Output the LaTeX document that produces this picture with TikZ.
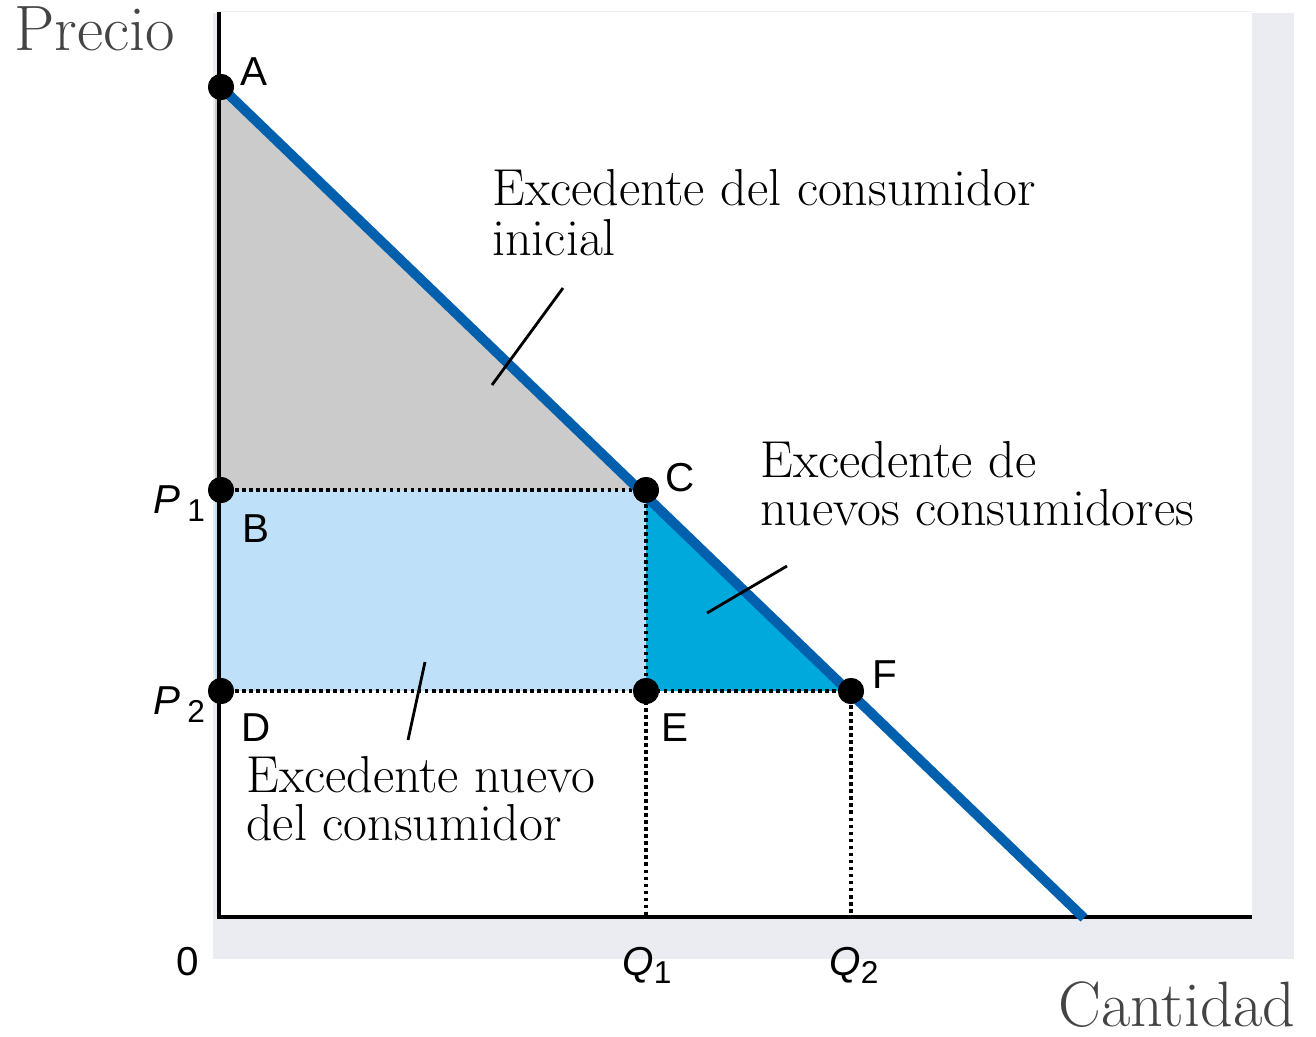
\documentclass[tikz,border=0pt]{standalone}
\usepackage{fontspec}
\newfontfamily\labfont{Liberation Sans}
\definecolor{shadowc}{HTML}{EBECF1}
\definecolor{greyfill}{HTML}{CBCBCB}
\definecolor{lightblue}{HTML}{BEE0F8}
\definecolor{cyanfill}{HTML}{00A9DC}
\definecolor{demandblue}{HTML}{0060AE}
\definecolor{axisgrey}{HTML}{444444}
\begin{document}
\begin{tikzpicture}[x=0.02cm,y=-0.02cm,
  dot/.style={circle,fill=black,inner sep=0pt,minimum size=26*0.02cm},
  axisline/.style={line width=2pt,black},
  demand/.style={line width=5.6pt,demandblue},
  dotline/.style={line width=2.1pt,black,dash pattern=on 2.1pt off 1.9pt},
  leader/.style={line width=1.6pt,black},
  serif/.style={font=\fontsize{29.6}{33}\selectfont,anchor=base west,inner sep=0pt},
  axlabel/.style={font=\fontsize{36.5}{40}\selectfont,text=axisgrey,anchor=base west,inner sep=0pt},
  sans/.style={font=\labfont\fontsize{23}{26}\selectfont,anchor=base west,inner sep=0pt},
]
\useasboundingbox (0,0) rectangle (1316,1036);
% shadow and plot area
\fill[shadowc] (213,13) rectangle (1294,959);
\fill[white] (219,11) rectangle (1252,917);
\draw[line width=0.4pt,black!6] (219,11) -- (1252,11);
% regions
\fill[greyfill] (215,87) -- (646,490) -- (215,490) -- cycle;
\fill[lightblue] (215,490) rectangle (646,691);
\fill[cyanfill] (646,490) -- (646,691) -- (851,691) -- cycle;
% points
\node[dot] (A) at (221,87) {};
\node[dot] (B) at (221,490) {};
\node[dot] (C) at (646,490) {};
\node[dot] (D) at (221,691) {};
\node[dot] (E) at (646,691) {};
\node[dot] (F) at (851,691) {};
\coordinate (ytop) at (219,12);
\coordinate (orig) at (219,917);
\coordinate (xend) at (1252,917);
\coordinate (dend) at (1084,918);
\coordinate (q1) at (646,917);
\coordinate (q2) at (851,917);
% dotted guides
\draw[dotline] (B.center) -- (C.center);
\draw[dotline] (D.center) -- (F.center);
\draw[dotline] (C.center) -- (q1);
\draw[dotline] (F.center) -- (q2);
% axes
\draw[axisline] (ytop) -- (orig) -- (xend);
% demand curve
\draw[demand] (A.center) -- (dend);
% redraw dots on top
\foreach \p in {A,B,C,D,E,F} \fill[black] (\p.center) circle (13);
% leaders
\coordinate (l1a) at (563,288);
\coordinate (l1b) at (492,385);
\coordinate (l2a) at (787,566);
\coordinate (l2b) at (707,613);
\coordinate (l3a) at (425,662);
\coordinate (l3b) at (408,740);
\draw[leader] (l1a) -- (l1b);
\draw[leader] (l2a) -- (l2b);
\draw[leader] (l3a) -- (l3b);
% texts
\node[serif] (t1) at (492,205) {Excedente del consumidor};
\node[serif] (t1b) at (492,255) {inicial};
\node[serif] (t2) at (760,477) {Excedente de};
\node[serif] (t2b) at (760,525) {nuevos consumidores};
\node[serif] (t3) at (246,792) {Excedente nuevo};
\node[serif] (t3b) at (246,840) {del consumidor};
\node[axlabel] (ylab) at (14,50) {Precio};
\node[axlabel] (xlab) at (1058,1026) {Cantidad};
% point labels
\node[sans] (la) at (240,85) {A};
\node[sans] (lb) at (242,542) {B};
\node[sans] (lc) at (665,491) {C};
\node[sans] (ld) at (241,741) {D};
\node[sans] (le) at (661,741) {E};
\node[sans] (lf) at (872,688) {F};
\node[sans] (l0) at (176,975) {0};
\node[sans] (p1) at (153,513) {{\itshape P}\kern4pt\raisebox{-5pt}{\fontsize{18}{20}\selectfont 1}};
\node[sans] (p2) at (153,714) {{\itshape P}\kern4pt\raisebox{-5pt}{\fontsize{18}{20}\selectfont 2}};
\node[sans] (lq1) at (622,975) {{\itshape Q}\raisebox{-5pt}{\fontsize{18}{20}\selectfont 1}};
\node[sans] (lq2) at (829,975) {{\itshape Q}\raisebox{-5pt}{\fontsize{18}{20}\selectfont 2}};
\end{tikzpicture}
\end{document}
